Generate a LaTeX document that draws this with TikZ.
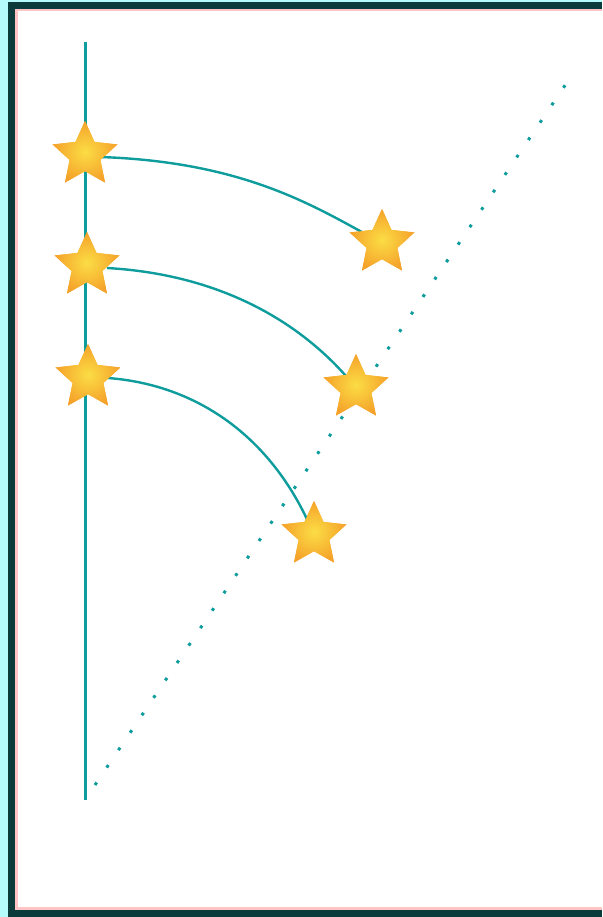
\documentclass[tikz,border=0pt]{standalone}
\usetikzlibrary{shapes.geometric}
\definecolor{teal1}{HTML}{0E9C9C}
\definecolor{frame}{HTML}{0B3B3B}
\definecolor{lcyan}{HTML}{B5FBFB}
\definecolor{pinkl}{HTML}{FFC4C4}
\definecolor{starout}{HTML}{F5A22A}
\definecolor{starin}{HTML}{FBDD45}
\tikzset{
  x=1pt,y=-1pt,
  starnode/.style={star,star points=5,star point ratio=2.1,minimum size=68pt,inner sep=0pt,
    draw=none,inner color=starin,outer color=starout},
  tealline/.style={draw=teal1,line width=3pt},
  arcline/.style={draw=teal1,line width=2.4pt},
  dotline/.style={draw=teal1,line width=3pt,dash pattern=on 3pt off 18pt}
}
\begin{document}
\begin{tikzpicture}
\useasboundingbox (0,0) rectangle (602,917);
\fill[white] (0,0) rectangle (602,917);
\fill[lcyan] (0,0) rectangle (8,917);
\fill[lcyan] (0,0) rectangle (602,2);
\fill[frame] (8,2) rectangle (15,917);
\fill[frame] (8,2) rectangle (602,9);
\fill[frame] (8,910) rectangle (602,917);
\fill[pinkl] (15,9) rectangle (18,910);
\fill[pinkl] (15,9) rectangle (602,11);
\fill[pinkl] (15,907) rectangle (602,910);

\coordinate (vtop) at (85,42);
\coordinate (vbot) at (85,800);
\coordinate (dA) at (95,785);
\coordinate (dB) at (572,75);
\draw[tealline] (vtop) -- (vbot);
\draw[dotline] (dA) -- (dB);

\node[starnode] (s1) at (85,155) {};
\node[starnode] (s2) at (87,266) {};
\node[starnode] (s3) at (88,378) {};
\node[starnode] (t1) at (382,243) {};
\node[starnode] (t2) at (356,388) {};
\node[starnode] (t3) at (314,535) {};

\draw[arcline] (s1.center) ++(15,2) .. controls (250,162) and (320,210) .. (t1.center);
\draw[arcline] (s2.center) ++(20,2) .. controls (230,275) and (310,330) .. (t2.center);
\draw[arcline] (s3.center) ++(20,0) .. controls (200,385) and (275,440) .. (t3.center);

\node[starnode] at (s1) {};
\node[starnode] at (s2) {};
\node[starnode] at (s3) {};
\node[starnode] at (t1) {};
\node[starnode] at (t2) {};
\node[starnode] at (t3) {};
\end{tikzpicture}
\end{document}
